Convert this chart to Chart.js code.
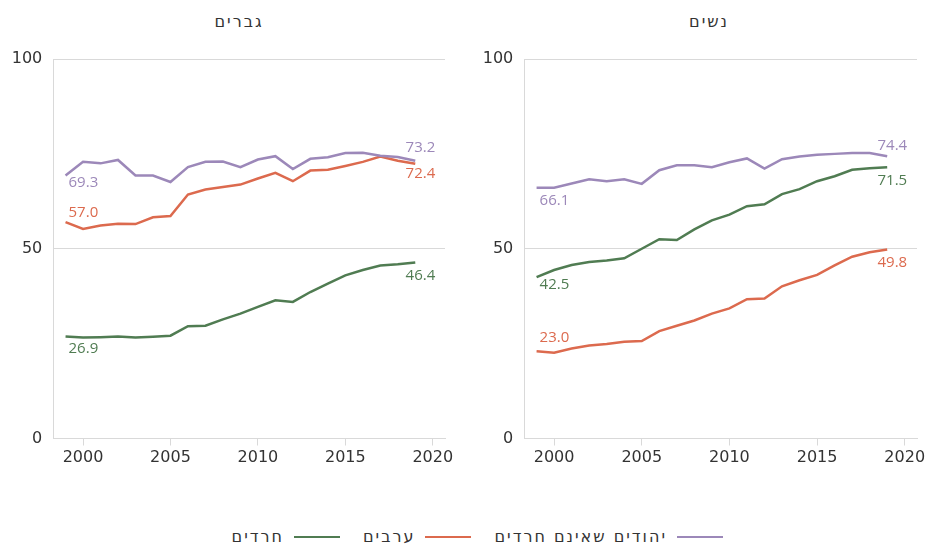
<!DOCTYPE html>
<html>
<head>
<meta charset="utf-8">
<script src="https://cdn.jsdelivr.net/npm/chart.js@4.4.1/dist/chart.umd.min.js"></script>
<style>
  body { margin: 0; background: #fff; width: 929px; height: 545px; overflow: hidden; position: relative; font-family: "DejaVu Sans", sans-serif; color: #333; }
  canvas { position: absolute; top: 0; }
  .title { position: absolute; top: 12px; font-size: 16px; line-height: 20px; letter-spacing: 2px; transform: translateX(-50%); direction: rtl; white-space: nowrap; }
  #legend { position: absolute; top: 527px; right: 206px; display: flex; direction: rtl; gap: 23px; font-size: 16px; line-height: 20px; letter-spacing: 2px; }
  #legend .item { display: flex; align-items: center; gap: 10px; }
  #legend .line { width: 46px; height: 2.5px; }
</style>
</head>
<body>
<div class="title" style="left:239px">גברים</div>
<div class="title" style="left:709px">נשים</div>
<canvas id="men" width="470" height="490" style="left:0"></canvas>
<canvas id="women" width="457" height="490" style="left:472px"></canvas>
<div id="legend"></div>
<script>
const years = [1999, 2000, 2001, 2002, 2003, 2004, 2005, 2006, 2007, 2008, 2009, 2010, 2011, 2012, 2013, 2014, 2015, 2016, 2017, 2018, 2019];
const xTicks = [2000, 2005, 2010, 2015, 2020];
const yTicks = [0, 50, 100];

const seriesNames = ['יהודים שאינם חרדים', 'ערבים', 'חרדים'];
const seriesColors = ['#9c88b9', '#dc6a4e', '#507c52'];

// men
const menJews   = [69.3, 72.9, 72.5, 73.4, 69.3, 69.3, 67.6, 71.5, 72.9, 73.0, 71.5, 73.5, 74.4, 71.0, 73.7, 74.1, 75.2, 75.3, 74.5, 74.2, 73.2];
const menArabs  = [57.0, 55.2, 56.1, 56.6, 56.5, 58.3, 58.6, 64.3, 65.6, 66.3, 66.9, 68.5, 70.0, 67.8, 70.6, 70.8, 71.8, 72.9, 74.3, 73.2, 72.4];
const menHaredi = [26.9, 26.6, 26.7, 26.9, 26.6, 26.8, 27.1, 29.6, 29.7, 31.4, 32.9, 34.7, 36.4, 36.0, 38.6, 40.8, 43.0, 44.4, 45.6, 45.9, 46.4];

// women
const womenJews   = [66.1, 66.1, 67.2, 68.3, 67.8, 68.3, 67.1, 70.7, 72.0, 72.0, 71.5, 72.8, 73.8, 71.1, 73.6, 74.3, 74.8, 75.0, 75.2, 75.2, 74.4];
const womenArabs  = [23.0, 22.6, 23.7, 24.5, 24.9, 25.5, 25.7, 28.3, 29.7, 31.1, 32.9, 34.3, 36.7, 36.9, 40.1, 41.7, 43.1, 45.6, 47.9, 49.1, 49.8];
const womenHaredi = [42.5, 44.4, 45.7, 46.5, 46.9, 47.5, 50.0, 52.5, 52.3, 55.1, 57.5, 59.0, 61.2, 61.7, 64.4, 65.7, 67.8, 69.1, 70.8, 71.2, 71.5];

const GRID = '#d9d9d9';
const TICK_FONT = { family: '"DejaVu Sans"', size: 16 };

// first/last value labels next to each line
const endLabels = {
  id: 'endLabels',
  afterDatasetsDraw(chart) {
    const ctx = chart.ctx;
    chart.data.datasets.forEach((ds, i) => {
      const pts = chart.getDatasetMeta(i).data;
      const a = pts[0], b = pts[pts.length - 1];
      ctx.save();
      ctx.font = '15px "Open Sans"';
      ctx.fillStyle = ds.borderColor;
      ctx.textBaseline = 'middle';
      ctx.textAlign = 'left';
      ctx.fillText(ds.data[0].y.toFixed(1), a.x + 3, a.y + ds.labelDy[0]);
      ctx.textAlign = 'right';
      ctx.fillText(ds.data[ds.data.length - 1].y.toFixed(1), b.x + 20, b.y + ds.labelDy[1]);
      ctx.restore();
    });
  }
};

function toPoints(arr) { return years.map((x, i) => ({ x, y: arr[i] })); }

function makeChart(id, values, dys, axisW, padRight) {
  new Chart(document.getElementById(id), {
    type: 'line',
    data: {
      datasets: values.map((v, i) => ({
        label: seriesNames[i],
        data: toPoints(v),
        borderColor: seriesColors[i],
        borderWidth: 2.5,
        pointRadius: 0,
        tension: 0,
        labelDy: dys[i]
      }))
    },
    options: {
      responsive: false,
      animation: false,
      devicePixelRatio: 1,
      layout: { padding: { top: 59, right: padRight, bottom: 11.5, left: 0 } },
      plugins: { legend: { display: false }, tooltip: { enabled: false }, title: { display: false } },
      scales: {
        x: {
          type: 'linear',
          min: 1998.3,
          max: 2020.7,
          afterBuildTicks: s => { s.ticks = xTicks.map(v => ({ value: v })); },
          afterFit: s => { s.height = 40; },
          grid: { drawOnChartArea: false, drawTicks: true, tickLength: 7, color: GRID },
          border: { display: true, color: GRID },
          ticks: { font: TICK_FONT, color: '#333', padding: 3, maxRotation: 0, callback: v => String(v) }
        },
        y: {
          min: 0,
          max: 100,
          afterBuildTicks: s => { s.ticks = yTicks.map(v => ({ value: v })); },
          afterFit: s => { s.width = axisW; },
          grid: { color: GRID, drawTicks: false },
          border: { display: true, color: GRID },
          ticks: { font: TICK_FONT, color: '#333', padding: 11 }
        }
      }
    },
    plugins: [endLabels]
  });
}

makeChart('men', [menJews, menArabs, menHaredi], [[7, -13], [-9.5, 9.6], [12, 13.6]], 53.3, 25);
makeChart('women', [womenJews, womenArabs, womenHaredi], [[12.8, -10.7], [-13.4, 13.5], [8, 13.3]], 52.3, 12);

// shared legend
const legend = document.getElementById('legend');
seriesNames.forEach((name, i) => {
  const item = document.createElement('div');
  item.className = 'item';
  item.innerHTML = `<span class="line" style="background:${seriesColors[i]}"></span><span>${name}</span>`;
  legend.appendChild(item);
});
</script>
</body>
</html>
